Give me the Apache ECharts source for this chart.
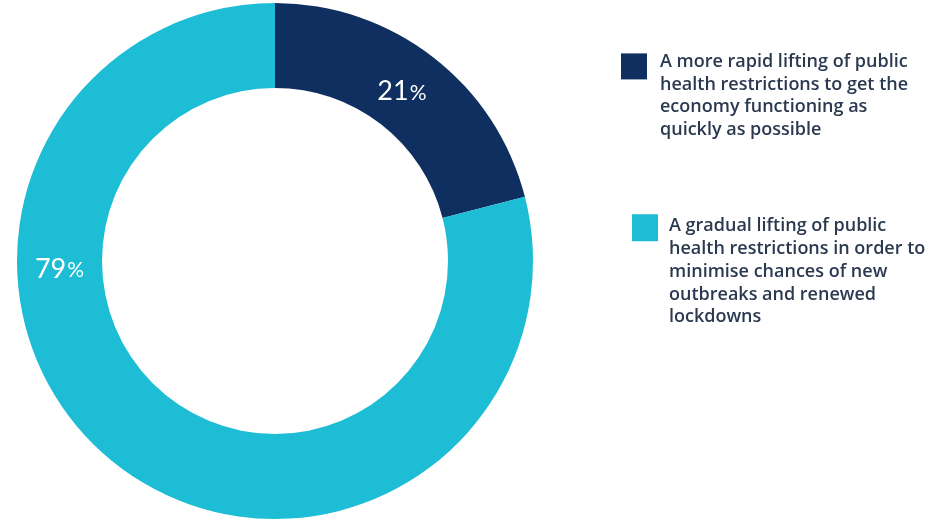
<!DOCTYPE html>
<html>
<head>
<meta charset="utf-8">
<style>
  html, body { margin: 0; padding: 0; background: #ffffff; }
  #chart { width: 931px; height: 523px; }
</style>
<script src="https://cdn.jsdelivr.net/npm/echarts@6/dist/echarts.min.js"></script>
</head>
<body>
<div id="chart"></div>
<script>
// Survey answers: preferred pace of lifting public health restrictions
const categories = [
  'A more rapid lifting of public\nhealth restrictions to get the\neconomy functioning as\nquickly as possible',
  'A gradual lifting of public\nhealth restrictions in order to\nminimise chances of new\noutbreaks and renewed\nlockdowns'
];
const shares = [21, 79];
const colors = ['#0e2f5f', '#1cbdd5'];

const CX = 275, CY = 261, R_IN = 173, R_OUT = 258;
const LABEL_FONT = 'Lato, "Noto Sans", sans-serif';
const LEGEND_FONT = '"Open Sans", Lato, sans-serif';
const LINE_H = 22.7;

const chart = echarts.init(document.getElementById('chart'), null, { renderer: 'canvas' });

// legend text: a spacer line above the wrapped lines keeps the swatch level with the first line
function legendFormatter(name) {
  return '{s| }\n' + name.split('\n').map(l => '{a|' + l + '}').join('\n');
}
function legendStyle(spacer, gapLeft) {
  return {
    padding: [0, 0, 0, gapLeft],
    rich: {
      s: { fontSize: 2, lineHeight: spacer },
      a: {
        fontFamily: LEGEND_FONT,
        fontSize: 18,
        fontWeight: 600,
        color: '#2b3950',
        lineHeight: LINE_H
      }
    }
  };
}

chart.setOption({
  animation: false,
  color: colors,
  legend: [
    {
      data: [categories[0]],
      orient: 'vertical',
      left: 616,
      top: 15,
      icon: 'rect',
      itemWidth: 26,
      itemHeight: 26,
      selectedMode: false,
      formatter: legendFormatter,
      textStyle: legendStyle(59, 8)
    },
    {
      data: [categories[1]],
      orient: 'vertical',
      left: 627,
      top: 165,
      icon: 'rect',
      itemWidth: 26,
      itemHeight: 27,
      selectedMode: false,
      formatter: legendFormatter,
      textStyle: legendStyle(88, 6)
    }
  ],
  series: [{
    type: 'pie',
    center: [CX, CY],
    radius: [R_IN, R_OUT],
    startAngle: 90,
    clockwise: true,
    silent: true,
    itemStyle: { borderWidth: 0 },
    label: {
      show: true,
      position: 'inside',
      formatter: p => '{n|' + p.value + '}{p|%}',
      rich: {
        n: { fontFamily: LABEL_FONT, fontSize: 27, color: '#ffffff' },
        p: { fontFamily: LABEL_FONT, fontSize: 21, color: '#ffffff', padding: [3, 0, 0, 1] }
      }
    },
    labelLine: { show: false },
    labelLayout: function (params) {
      // the large share is labelled at the left side of the ring
      if (params.dataIndex === 1) {
        return { x: CX - (R_IN + R_OUT) / 2, y: CY + 8 };
      }
      return { dx: -7, dy: 3 };
    },
    data: categories.map((name, i) => ({ name: name, value: shares[i] }))
  }]
});
</script>
</body>
</html>
